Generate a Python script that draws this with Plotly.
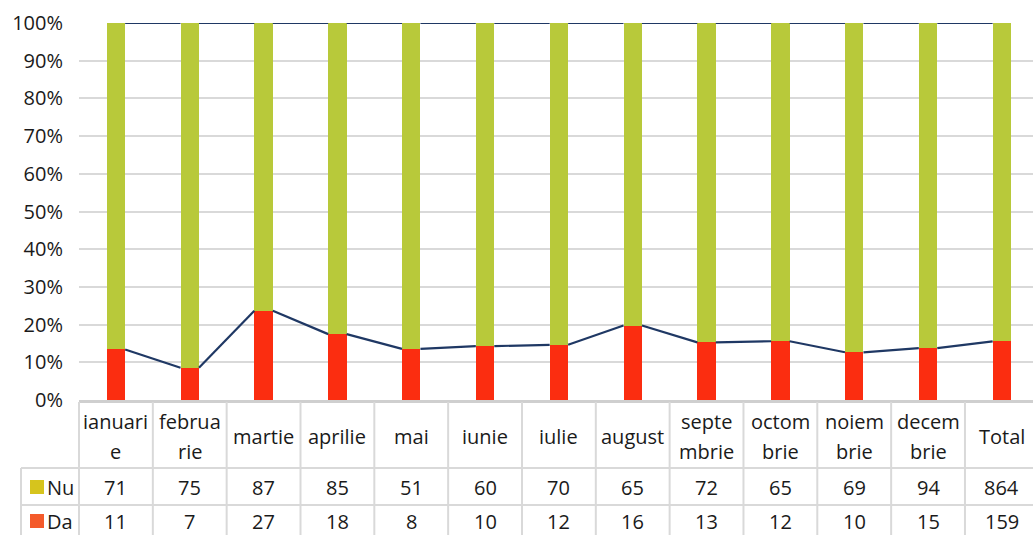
import plotly.graph_objects as go

# ---------------- data ----------------
categories = ["ianuarie", "februarie", "martie", "aprilie", "mai", "iunie", "iulie",
              "august", "septembrie", "octombrie", "noiembrie", "decembrie", "Total"]
header_top = ["ianuari", "februa", "martie", "aprilie", "mai", "iunie", "iulie",
              "august", "septe", "octom", "noiem", "decem", "Total"]
header_bottom = ["e", "rie", "", "", "", "", "", "", "mbrie", "brie", "brie", "brie", ""]
nu_values = [71, 75, 87, 85, 51, 60, 70, 65, 72, 65, 69, 94, 864]
da_values = [11, 7, 27, 18, 8, 10, 12, 16, 13, 12, 10, 15, 159]
y_tick_values = [0, 0.1, 0.2, 0.3, 0.4, 0.5, 0.6, 0.7, 0.8, 0.9, 1.0]

# ---------------- styling ----------------
FONT = "Open Sans"
TXT = "#1a1a1a"
DA_COLOR = "#fb2d10"
NU_COLOR = "#b8c93a"
DA_KEY = "#f45a2a"
NU_KEY = "#d6c41d"
LINE_COLOR = "#1f3864"
GRID = "#d9d9d9"

W, H = 1033, 535
L, R, T, B = 79, 0, 23, 135
plot_w = W - L - R
plot_h = H - T - B
col_w = 73.83
n = len(categories)
x_min = -0.5
x_max = x_min + plot_w / col_w
bar_w = 0.25

totals = [a + b for a, b in zip(nu_values, da_values)]
da_pct = [d / t for d, t in zip(da_values, totals)]
nu_pct = [v / t for v, t in zip(nu_values, totals)]
xs = list(range(n))

fig = go.Figure()
fig.add_trace(go.Bar(x=xs, y=da_pct, width=bar_w, marker=dict(color=DA_COLOR, line=dict(width=0)),
                     name="Da", customdata=da_values, hovertemplate="%{customdata}<extra>Da</extra>"))
fig.add_trace(go.Bar(x=xs, y=nu_pct, width=bar_w, marker=dict(color=NU_COLOR, line=dict(width=0)),
                     name="Nu", customdata=nu_values, hovertemplate="%{customdata}<extra>Nu</extra>"))

# series lines (connect segment tops between neighbouring bars)
def series_lines(levels):
    lx, ly = [], []
    for i in range(n - 1):
        lx += [xs[i] + bar_w / 2, xs[i + 1] - bar_w / 2, None]
        ly += [levels[i], levels[i + 1], None]
    return lx, ly

cum_top = [d + v for d, v in zip(da_pct, nu_pct)]
for lv in (da_pct, cum_top):
    lx, ly = series_lines(lv)
    fig.add_trace(go.Scatter(x=lx, y=ly, mode="lines", line=dict(color=LINE_COLOR, width=2.2),
                             hoverinfo="skip", showlegend=False, cliponaxis=False))

# ---------------- data table ----------------
def xp(px):
    return (px - L) / plot_w

def yp(py):
    return (H - B - py) / plot_h

def col_edge(i):
    # left edge of column i, in paper coordinates
    return (i - 0.5 - x_min) / (x_max - x_min)

shapes = []
line_style = dict(color=GRID, width=2)
# horizontal lines
shapes.append(dict(type="line", xref="paper", yref="paper", x0=0, x1=1.01, y0=yp(401.5), y1=yp(401.5),
                   line=dict(color="#cfcfcf", width=3)))
for py in (468, 505):
    shapes.append(dict(type="line", xref="paper", yref="paper", x0=xp(21), x1=1.01, y0=yp(py), y1=yp(py),
                       line=line_style))
# vertical lines
shapes.append(dict(type="line", xref="paper", yref="paper", x0=xp(21), x1=xp(21), y0=yp(468), y1=yp(540),
                   line=line_style))
for i in range(n + 1):
    xe = col_edge(i)
    if xe > 1.01:
        continue
    shapes.append(dict(type="line", xref="paper", yref="paper", x0=xe, x1=xe, y0=yp(402), y1=yp(540),
                       line=line_style))
# legend keys
for cy, col in ((487, NU_KEY), (521, DA_KEY)):
    shapes.append(dict(type="rect", xref="paper", yref="paper", x0=xp(30), x1=xp(44),
                       y0=yp(cy + 7), y1=yp(cy - 7), fillcolor=col, line=dict(width=0)))

annotations = []
fnt = dict(family=FONT, size=20, color=TXT)
for i in range(n):
    if header_bottom[i]:
        annotations.append(dict(x=xs[i], xref="x", y=yp(421), yref="paper", text=header_top[i],
                                showarrow=False, font=fnt, xanchor="center", yanchor="middle"))
        annotations.append(dict(x=xs[i], xref="x", y=yp(451), yref="paper", text=header_bottom[i],
                                showarrow=False, font=fnt, xanchor="center", yanchor="middle"))
    else:
        annotations.append(dict(x=xs[i], xref="x", y=yp(436), yref="paper", text=header_top[i],
                                showarrow=False, font=fnt, xanchor="center", yanchor="middle"))
    annotations.append(dict(x=xs[i], xref="x", y=yp(487), yref="paper", text=str(nu_values[i]),
                            showarrow=False, font=fnt, xanchor="center", yanchor="middle"))
    annotations.append(dict(x=xs[i], xref="x", y=yp(521), yref="paper", text=str(da_values[i]),
                            showarrow=False, font=fnt, xanchor="center", yanchor="middle"))
for cy, lab in ((487, "Nu"), (521, "Da")):
    annotations.append(dict(x=xp(45), xref="paper", y=yp(cy), yref="paper", text=lab,
                            showarrow=False, font=fnt, xanchor="left", yanchor="middle"))

fig.update_layout(
    width=W, height=H,
    margin=dict(l=L, r=R, t=T, b=B, pad=0),
    barmode="stack",
    showlegend=False,
    plot_bgcolor="white", paper_bgcolor="white",
    font=dict(family=FONT, size=20, color=TXT),
    xaxis=dict(range=[x_min, x_max], showticklabels=False, showgrid=False, zeroline=False,
               showline=False, ticks="", fixedrange=True),
    yaxis=dict(range=[0, 1], tickvals=y_tick_values, tickformat=".0%", showgrid=True,
               gridcolor=GRID, gridwidth=2, zeroline=False, showline=False, ticks="",
               ticklabelstandoff=15, tickfont=dict(family=FONT, size=20, color=TXT), fixedrange=True),
    shapes=shapes,
    annotations=annotations,
)

fig.write_html("out.html", config={"displayModeBar": False},
               post_script="document.body.style.margin='0';document.body.style.overflow='hidden';")
